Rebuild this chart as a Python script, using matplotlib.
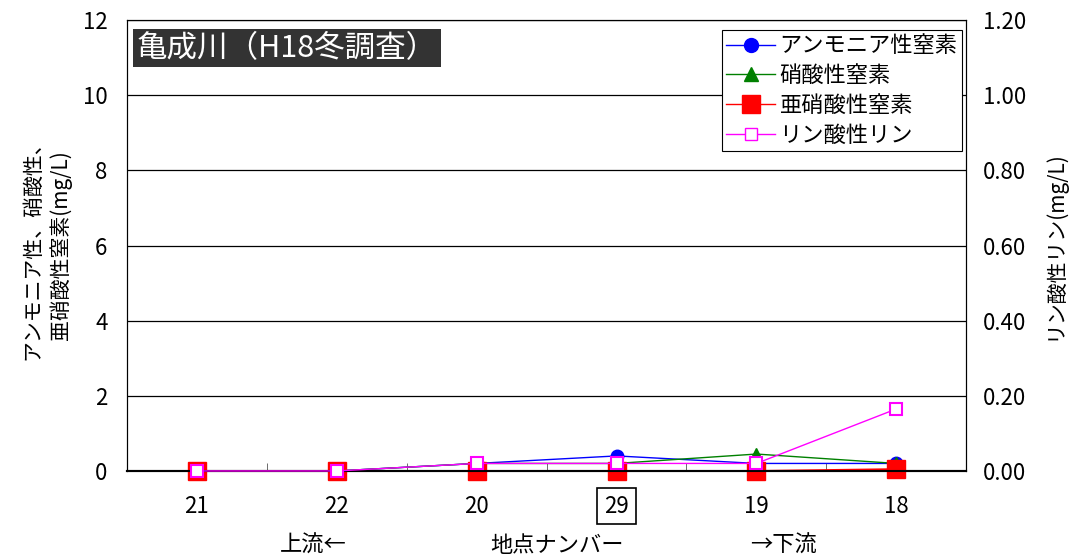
import matplotlib
matplotlib.use('Agg')
import matplotlib.pyplot as plt
from matplotlib.lines import Line2D

plt.rcParams['font.family'] = ['Noto Sans CJK JP', 'DejaVu Sans']

# 地点ナンバー (上流→下流)
stations = ['21', '22', '20', '29', '19', '18']
ammonia = [0.0, 0.0, 0.2, 0.4, 0.2, 0.2]
nitrate = [0.0, 0.0, 0.2, 0.2, 0.45, 0.2]
nitrite = [0.0, 0.0, 0.0, 0.0, 0.0, 0.05]
phosphate = [0.0, 0.0, 0.02, 0.02, 0.02, 0.165]

x = list(range(len(stations)))

fig = plt.figure(figsize=(10.76, 5.58), dpi=100)
ax = fig.add_axes([0.118, 0.156, 0.780, 0.808])
ax2 = ax.twinx()

ax.plot(x, ammonia, color='blue', lw=1, marker='o', ms=9, zorder=3, clip_on=False)
ax.plot(x, nitrate, color='green', lw=1, marker='^', ms=9, zorder=3, clip_on=False)
ax.plot(x, nitrite, color='red', lw=1.3, marker='s', ms=13.5, zorder=3, clip_on=False)
ax2.plot(x, phosphate, color='magenta', lw=1, marker='s', ms=8.5,
         markerfacecolor='white', markeredgewidth=1.5, zorder=4, clip_on=False)

ax.set_xlim(-0.5, 5.5)
ax.set_ylim(0, 12)
ax2.set_ylim(0, 1.2)
ax.set_yticks(range(0, 13, 2))
ax2.set_yticks([0, 0.2, 0.4, 0.6, 0.8, 1.0, 1.2])
ax2.set_yticklabels(['%.2f' % v for v in [0, 0.2, 0.4, 0.6, 0.8, 1.0, 1.2]])
ax.yaxis.grid(True, color='black', lw=0.9)
ax.set_axisbelow(True)

ax.set_xticks(x)
ax.set_xticklabels(stations)
ax.set_xticks([i + 0.5 for i in range(5)], minor=True)
ax.tick_params(axis='x', which='major', length=0, pad=17, labelsize=16)
ax.tick_params(axis='x', which='minor', direction='in', length=6, color='#555555')
ax.tick_params(axis='y', length=0, pad=14, labelsize=16)
ax2.tick_params(axis='y', length=0, pad=12, labelsize=16)

for s in ['left', 'right', 'top', 'bottom']:
    ax.spines[s].set_color('black')
    ax2.spines[s].set_color('black')
ax.spines['bottom'].set_linewidth(1.5)
ax2.spines['bottom'].set_linewidth(1.5)

# boxed label for station 29
for lbl in ax.get_xticklabels():
    if lbl.get_text() == '29':
        lbl.set_bbox(dict(facecolor='none', edgecolor='black', lw=1.2, pad=5))

ax.set_ylabel('アンモニア性、硝酸性、\n亜硝酸性窒素(mg/L)', fontsize=15, labelpad=8, linespacing=1.3)
ax2.set_ylabel('リン酸性リン(mg/L)', fontsize=15, labelpad=12)

fig.text(313 / 1076, 1 - 545 / 558, '上流←', ha='center', va='center', fontsize=16)
fig.text(557 / 1076, 1 - 545 / 558, '地点ナンバー', ha='center', va='center', fontsize=16)
fig.text(783 / 1076, 1 - 545 / 558, '→下流', ha='center', va='center', fontsize=16)

ax.text(0.012, 0.972, '亀成川（H18冬調査）', transform=ax.transAxes, ha='left', va='top',
        fontsize=22, color='white',
        bbox=dict(boxstyle='square,pad=0.12', facecolor='#333333', edgecolor='none'))

handles = [
    Line2D([], [], color='blue', lw=1, marker='o', ms=10),
    Line2D([], [], color='green', lw=1, marker='^', ms=10),
    Line2D([], [], color='red', lw=1, marker='s', ms=13),
    Line2D([], [], color='magenta', lw=1, marker='s', ms=8, markerfacecolor='white'),
]
labels = ['アンモニア性窒素', '硝酸性窒素', '亜硝酸性窒素', 'リン酸性リン']
leg = ax2.legend(handles, labels, loc='upper right', bbox_to_anchor=(0.995, 0.978),
                 fontsize=16, frameon=True, fancybox=False, framealpha=1,
                 edgecolor='black', handlelength=2.2, handletextpad=0.2,
                 labelspacing=0.3, borderpad=0.2, borderaxespad=0)
leg.get_frame().set_linewidth(0.8)

fig.savefig('out.png', dpi=100)
